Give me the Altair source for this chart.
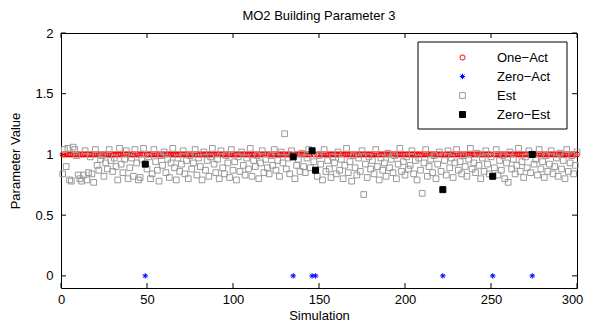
import altair as alt
import pandas as pd

series_names = ["One\u2212Act", "Zero\u2212Act", "Est", "Zero\u2212Est"]
series_stroke = ["#ff0000", "#0000ff", "#999999", "#000000"]
series_fill = ["transparent", "transparent", "transparent", "#000000"]
asterisk = "M-1,0L1,0M0,-1L0,1M-0.7,-0.7L0.7,0.7M-0.7,0.7L0.7,-0.7"
series_shape = ["circle", asterisk, "square", "square"]
series_size = [26, 36, 30, 45]

zero_sims = [49, 135, 146, 148, 222, 251, 274]

est = [
    0.84, 1.04, 0.90, 1.05, 0.79, 0.78, 1.06, 1.04, 0.99, 0.83,
    0.80, 0.78, 0.83, 1.03, 0.79, 0.85, 0.98, 0.84, 0.77, 1.04,
    0.91, 0.87, 0.96, 0.99, 0.82, 0.93, 0.88, 1.04, 0.95, 0.86,
    0.97, 0.90, 0.79, 1.05, 0.92, 0.85, 0.96, 1.03, 0.80, 0.89,
    0.97, 0.82, 1.04, 0.93, 0.79, 0.81, 0.96, 1.05, 0.92, 0.88,
    0.98, 0.80, 0.84, 1.04, 0.94, 0.87, 0.78, 0.99, 0.91, 1.02,
    0.85, 0.96, 0.81, 0.93, 1.05, 0.89, 0.79, 0.97, 0.86, 0.92,
    1.03, 0.84, 0.95, 0.80, 0.99, 0.88, 0.93, 1.04, 0.83, 0.97,
    0.90, 0.79, 1.02, 0.87, 0.95, 0.82, 0.98, 1.05, 0.92, 0.85,
    0.96, 0.80, 1.03, 0.89, 0.84, 0.99, 0.93, 0.81, 1.04, 0.87,
    0.94, 0.79, 0.98, 0.86, 1.02, 0.91, 0.83, 0.97, 0.88, 1.05,
    0.82, 0.95, 0.90, 0.99, 0.80, 0.93, 1.03, 0.85, 0.96, 0.89,
    0.84, 0.99, 0.91, 1.04, 0.87, 0.95, 0.82, 1.02, 0.93, 1.17,
    0.88, 0.97, 0.84, 1.03, 0.98, 0.80, 0.91, 0.96, 0.86, 1.01,
    0.90, 0.85, 0.97, 1.04, 0.89, 1.03, 0.94, 0.87, 0.82, 0.99,
    0.92, 0.79, 1.04, 0.86, 0.95, 0.88, 0.81, 0.98, 0.93, 0.84,
    1.02, 0.87, 0.96, 0.80, 0.91, 1.05, 0.85, 0.94, 0.78, 0.99,
    0.89, 0.83, 0.97, 0.86, 1.03, 0.67, 0.92, 0.81, 0.98, 0.88,
    0.95, 0.84, 1.04, 0.90, 0.79, 0.97, 0.87, 0.93, 0.82, 1.01,
    0.89, 0.96, 0.85, 0.99, 0.80, 0.92, 1.05, 0.86, 0.94, 0.83,
    0.98, 0.88, 0.91, 1.03, 0.84, 0.95, 0.79, 0.97, 0.87, 0.68,
    0.93, 1.04, 0.82, 0.90, 0.96, 0.85, 0.99, 0.80, 0.92, 1.02,
    0.86, 0.71, 0.95, 0.83, 1.03, 0.89, 0.97, 0.81, 0.93, 1.04,
    0.87, 0.94, 0.84, 0.99, 0.90, 0.82, 0.96, 1.05, 0.88, 0.93,
    0.85, 1.01, 0.91, 0.80, 0.97, 0.86, 1.03, 0.92, 0.84, 0.98,
    0.82, 0.89, 1.04, 0.83, 0.95, 0.87, 0.99, 0.80, 0.93, 0.77,
    1.02, 0.88, 0.96, 0.84, 0.91, 1.05, 0.86, 0.94, 0.81, 0.98,
    0.89, 1.03, 0.85, 1.00, 0.92, 0.96, 0.83, 1.04, 0.88, 0.94,
    0.81, 0.99, 0.86, 0.92, 1.03, 0.84, 0.90, 0.97, 0.82, 1.01,
    0.88, 0.95, 0.80, 1.04, 0.86, 0.93, 0.99, 0.84, 0.91, 1.02,
]

x_ticks = [0, 50, 100, 150, 200, 250, 300]
y_ticks = [0, 0.5, 1, 1.5, 2]

rows = []
for i, v in enumerate(est):
    s = i + 1
    if s in zero_sims:
        continue
    rows.append({"sim": s, "value": 1, "series": series_names[0], "order": 0})
for s in zero_sims:
    rows.append({"sim": s, "value": 0, "series": series_names[1], "order": 1})
for i, v in enumerate(est):
    s = i + 1
    if s in zero_sims:
        continue
    rows.append({"sim": s, "value": v, "series": series_names[2], "order": 2})
for s in zero_sims:
    rows.append({"sim": s, "value": est[s - 1], "series": series_names[3], "order": 3})
df = pd.DataFrame(rows)

W, H = 516, 255
FONT = "Liberation Sans"

xs = alt.Scale(domain=[0, 300], nice=False, zero=False)
ys = alt.Scale(domain=[-0.1, 2], nice=False, zero=False)

points = alt.Chart(df).mark_point(strokeWidth=1, opacity=1).encode(
    x=alt.X("sim:Q", scale=xs, title="Simulation",
            axis=alt.Axis(values=x_ticks, ticks=False, domain=False, grid=False,
                          labelFlush=False, labelPadding=5, titlePadding=3,
                          labelOffset={"condition": {"test": "datum.value == 300", "value": -5},
                                       "value": 0})),
    y=alt.Y("value:Q", scale=ys, title="Parameter Value",
            axis=alt.Axis(values=y_ticks, format="~g", ticks=False, domain=False,
                          grid=False, labelFlush=False, labelPadding=8, titlePadding=12)),
    stroke=alt.Stroke("series:N", scale=alt.Scale(domain=series_names, range=series_stroke),
                      legend=alt.Legend(title=None)),
    fill=alt.Fill("series:N", scale=alt.Scale(domain=series_names, range=series_fill),
                  legend=alt.Legend(title=None)),
    shape=alt.Shape("series:N", scale=alt.Scale(domain=series_names, range=series_shape),
                    legend=alt.Legend(title=None)),
    size=alt.Size("series:N", scale=alt.Scale(domain=series_names, range=series_size),
                  legend=alt.Legend(title=None)),
    order=alt.Order("order:Q"),
)

legend_box = alt.Chart(pd.DataFrame({"a": [0]})).mark_rect(
    fill="white", stroke="black", strokeWidth=1
).encode(x=alt.value(357), x2=alt.value(506), y=alt.value(9), y2=alt.value(96))

xt = pd.DataFrame({"t": x_ticks})
yt = pd.DataFrame({"t": y_ticks})
tick_style = dict(color="black", strokeWidth=1)
xb = alt.Chart(xt).mark_rule(**tick_style).encode(x=alt.X("t:Q", scale=xs), y=alt.value(H), y2=alt.value(H - 5))
xtp = alt.Chart(xt).mark_rule(**tick_style).encode(x=alt.X("t:Q", scale=xs), y=alt.value(0), y2=alt.value(5))
yl = alt.Chart(yt).mark_rule(**tick_style).encode(y=alt.Y("t:Q", scale=ys), x=alt.value(0), x2=alt.value(5))
yr = alt.Chart(yt).mark_rule(**tick_style).encode(y=alt.Y("t:Q", scale=ys), x=alt.value(W), x2=alt.value(W - 5))

chart = alt.layer(legend_box, xb, xtp, yl, yr, points).properties(
    width=W, height=H,
    title=alt.TitleParams("MO2 Building Parameter 3", fontSize=13, fontWeight="normal",
                          font=FONT, color="black", offset=4),
    autosize=alt.AutoSizeParams(type="none"),
    padding={"left": 53, "top": 25, "right": 7, "bottom": 37},
).configure_view(
    stroke="black", strokeWidth=1
).configure_axis(
    labelFont=FONT, labelFontSize=13, labelColor="black",
    titleFont=FONT, titleFontSize=13, titleFontWeight="normal", titleColor="black",
).configure_legend(
    orient="none", legendX=370, legendY=18, labelFont=FONT, labelFontSize=13,
    labelColor="black", symbolOffset=25, labelOffset=28, rowPadding=5, padding=0,
    symbolStrokeWidth=1,
)

chart.save("out.html", embed_options={"renderer": "svg", "actions": False})
